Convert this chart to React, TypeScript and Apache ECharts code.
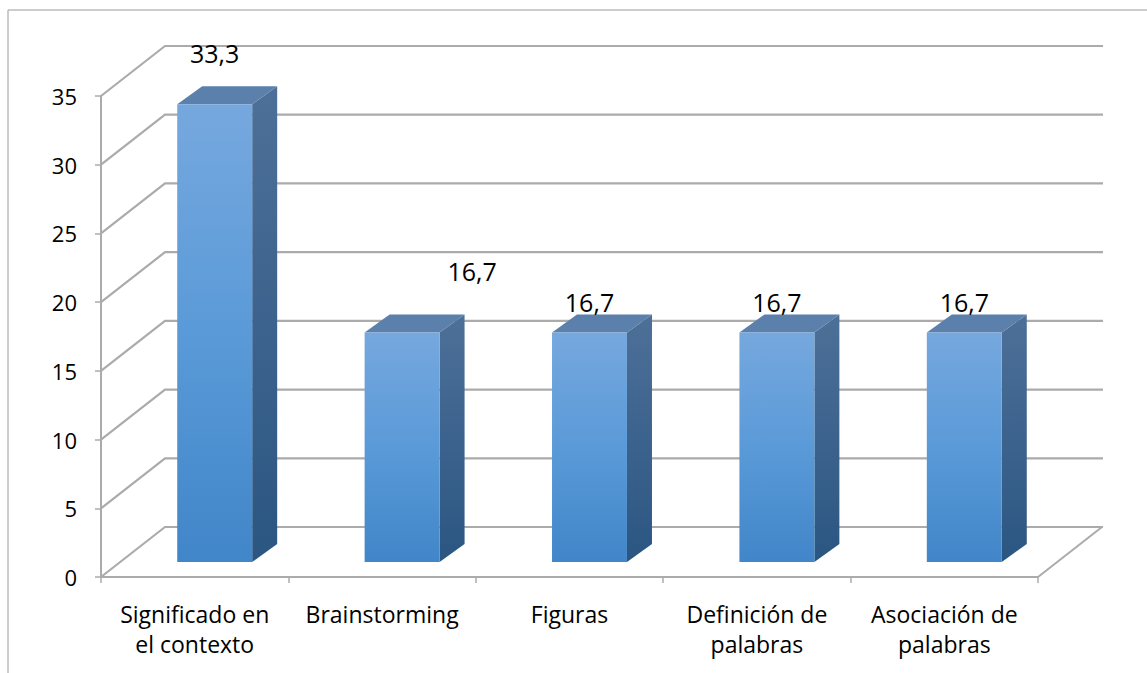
import React, { useEffect, useRef } from "react";
import * as echarts from "echarts";

// Categories and percentages shown on the chart
const categories = [
  "Significado en\nel contexto",
  "Brainstorming",
  "Figuras",
  "Definición de\npalabras",
  "Asociación de\npalabras",
];
const values = [33.3, 16.7, 16.7, 16.7, 16.7];

// Value axis range
const yMin = 0;
const yMax = 35;
const yStep = 5;
const wallTicks = [0, 5, 10, 15, 20, 25, 30, 35];

// Per-bar nudges of the value labels (pixels)
const labelNudges: [number, number][] = [
  [0, -21],
  [70, -31],
  [0, 0],
  [0, 0],
  [0, 0],
];

// 3D projection offsets (pixels)
const WALL_DEPTH: [number, number] = [64, -50];
const BAR_FRONT: [number, number] = [20, -15];
const BAR_DEPTH: [number, number] = [25, -18];

const FONT = "'Open Sans', 'Noto Sans', sans-serif";
const GRID_COLOR = "#ababab";

const fmt = (v: number) => v.toFixed(1).replace(".", ",");

export default function App() {
  const ref = useRef<HTMLDivElement>(null);

  useEffect(() => {
    if (!ref.current) return;
    const chart = echarts.init(ref.current, null, { renderer: "svg" });

    const frontGrad = new echarts.graphic.LinearGradient(0, 0, 0, 1, [
      { offset: 0, color: "#76a8de" },
      { offset: 0.5, color: "#5a9ad8" },
      { offset: 1, color: "#4186c9" },
    ]);
    const sideGrad = new echarts.graphic.LinearGradient(0, 0, 0, 1, [
      { offset: 0, color: "#4d7098" },
      { offset: 1, color: "#2b5682" },
    ]);

    const option: echarts.EChartsOption = {
      animation: false,
      backgroundColor: "#ffffff",
      textStyle: { fontFamily: FONT },
      grid: { left: 101, right: 109, top: 96, bottom: 96, containLabel: false },
      graphic: [
        {
          type: "rect",
          shape: { x: 8, y: 10, width: 1300, height: 800 },
          style: { fill: "none", stroke: "#9a9a9a", lineWidth: 1 },
          silent: true,
          z: -10,
        },
      ],
      xAxis: {
        type: "category",
        data: categories,
        axisLine: { show: true, lineStyle: { color: GRID_COLOR, width: 2 } },
        axisTick: { show: true, length: 6, alignWithLabel: false, lineStyle: { color: GRID_COLOR, width: 1.5 } },
        axisLabel: {
          interval: 0,
          margin: 22,
          fontSize: 23,
          lineHeight: 30,
          color: "#000000",
          fontFamily: FONT,
          align: "center",
        },
        splitLine: { show: false },
      },
      yAxis: {
        type: "value",
        min: yMin,
        max: yMax,
        interval: yStep,
        axisLine: { show: true, lineStyle: { color: GRID_COLOR, width: 2 } },
        axisTick: { show: true, length: 6, lineStyle: { color: GRID_COLOR, width: 1.5 } },
        axisLabel: { fontSize: 22, margin: 24, color: "#000000", fontFamily: FONT },
        splitLine: { show: false },
      },
      series: [
        {
          // back wall and floor grid lines
          type: "custom",
          name: "walls",
          clip: false,
          silent: true,
          z: 1,
          data: wallTicks.map((t) => [0, t]),
          renderItem: (params: any, api: any) => {
            const cs = params.coordSys;
            const y = api.coord([0, api.value(1)])[1];
            const x0 = cs.x;
            const x1 = cs.x + cs.width;
            const children: any[] = [
              {
                type: "polyline",
                shape: {
                  points: [
                    [x0, y],
                    [x0 + WALL_DEPTH[0], y + WALL_DEPTH[1]],
                    [x1 + WALL_DEPTH[0] + 1, y + WALL_DEPTH[1]],
                  ],
                },
                style: { stroke: GRID_COLOR, lineWidth: 2.2, fill: "none" },
              },
            ];
            if (api.value(1) === 0) {
              children.push({
                type: "line",
                shape: { x1: x1, y1: y, x2: x1 + WALL_DEPTH[0], y2: y + WALL_DEPTH[1] },
                style: { stroke: GRID_COLOR, lineWidth: 2 },
              });
            }
            return { type: "group", children };
          },
        },
        {
          // 3D bars with their value labels
          type: "custom",
          name: "bars",
          clip: false,
          z: 3,
          data: values.map((v, i) => [i, v]),
          renderItem: (params: any, api: any) => {
            const idx = params.dataIndex;
            const v = api.value(1);
            const base = api.coord([api.value(0), 0]);
            const top = api.coord([api.value(0), v]);
            const band = api.size([1, 0])[0];
            const w = band * 0.4;
            const cx = base[0] + BAR_FRONT[0];
            const fl = cx - w / 2;
            const fr = cx + w / 2;
            const fb = base[1] + BAR_FRONT[1];
            const ft = top[1] + BAR_FRONT[1];
            const [dx, dy] = BAR_DEPTH;
            const nudge = labelNudges[idx] || [0, 0];
            return {
              type: "group",
              children: [
                {
                  type: "polygon",
                  shape: { points: [[fr, ft], [fr + dx, ft + dy], [fr + dx, fb + dy], [fr, fb]] },
                  style: { fill: sideGrad },
                },
                {
                  type: "polygon",
                  shape: { points: [[fl, ft], [fr, ft], [fr + dx, ft + dy], [fl + dx, ft + dy]] },
                  style: { fill: "#5a80ab" },
                },
                {
                  type: "rect",
                  shape: { x: fl, y: ft, width: w, height: fb - ft },
                  style: { fill: frontGrad },
                },
                {
                  type: "text",
                  x: cx + nudge[0],
                  y: ft + dy - 12 + nudge[1],
                  style: {
                    text: fmt(v),
                    fontSize: 25,
                    fontFamily: FONT,
                    fill: "#000000",
                    align: "center",
                    verticalAlign: "middle",
                  },
                  z2: 10,
                },
              ],
            };
          },
        },
      ],
    };

    chart.setOption(option);
    return () => chart.dispose();
  }, []);

  return (
    <div
      ref={ref}
      style={{ position: "fixed", left: 0, top: 0, width: 1147, height: 673, background: "#ffffff" }}
    />
  );
}
